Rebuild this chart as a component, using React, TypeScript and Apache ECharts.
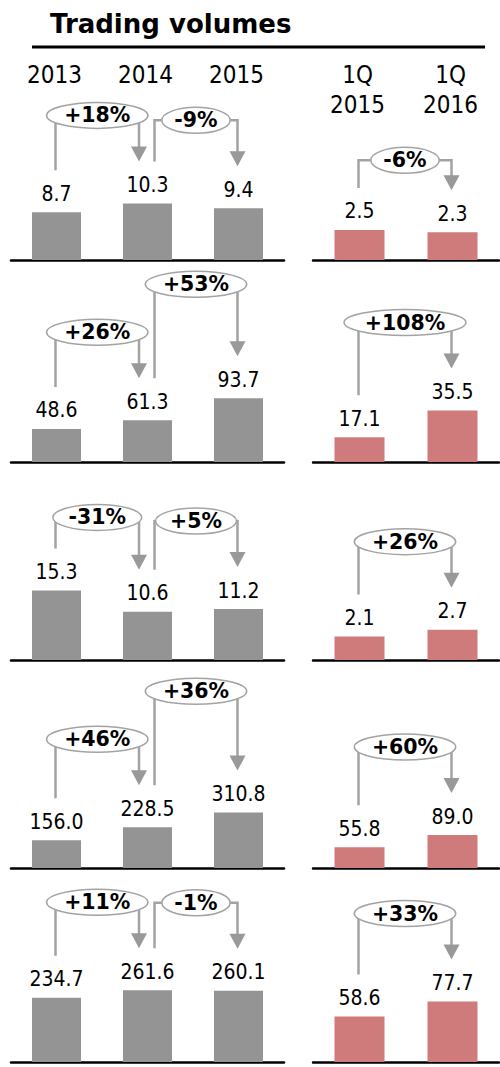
import React, { useEffect, useRef } from "react";
import * as echarts from "echarts";

// ---- data ----
const yearCategories = ["2013", "2014", "2015"];
const quarterCategories = ["1Q\n2015", "1Q\n2016"];

const yearValues = [
  [8.7, 10.3, 9.4],
  [48.6, 61.3, 93.7],
  [15.3, 10.6, 11.2],
  [156.0, 228.5, 310.8],
  [234.7, 261.6, 260.1],
];
const quarterValues = [
  [2.5, 2.3],
  [17.1, 35.5],
  [2.1, 2.7],
  [55.8, 89.0],
  [58.6, 77.7],
];
const yearChanges = [
  ["+18%", "-9%"],
  ["+26%", "+53%"],
  ["-31%", "+5%"],
  ["+46%", "+36%"],
  ["+11%", "-1%"],
];
const quarterChanges = [["-6%"], ["+108%"], ["+26%"], ["+60%"], ["+33%"]];

// axis scale per row (each row has its own scale)
const yearAxisMax = [18.2, 147, 22, 561, 365];
const quarterAxisMax = [8.3, 69, 8.9, 270, 128.5];

const TITLE = "Trading volumes";

// ---- layout / style ----
const W = 500;
const H = 1067;
const FONT = "'DejaVu Sans Condensed', 'DejaVu Sans', sans-serif";
const BOLD_FONT = "'DejaVu Sans', sans-serif";
const rowBaselines = [260, 462, 660, 868, 1062];
const GRID_H = 100;
const GRAY = "#949494";
const RED = "#cf7b7b";
const ARROW = "#a3a3a3";
// manual arrow height tweak (panel key -> px lower)
const arrowNudge: Record<string, number> = { "0-1-0": 16 };

function measure(text: string, font: string): number {
  const c = document.createElement("canvas");
  const ctx = c.getContext("2d");
  if (!ctx) return text.length * 12;
  ctx.font = font;
  return ctx.measureText(text).width;
}

export default function App() {
  const ref = useRef<HTMLDivElement>(null);

  useEffect(() => {
    document.body.style.margin = "0";
    if (!ref.current) return;
    const chart = echarts.init(ref.current, undefined, { renderer: "svg" });

    const grids: any[] = [];
    const xAxes: any[] = [];
    const yAxes: any[] = [];
    const series: any[] = [];

    rowBaselines.forEach((base, r) => {
      const panels = [
        { left: 11, width: 273, cats: yearCategories, vals: yearValues[r], max: yearAxisMax[r], color: GRAY, bw: 49 },
        { left: 313, width: 186, cats: quarterCategories, vals: quarterValues[r], max: quarterAxisMax[r], color: RED, bw: 50 },
      ];
      panels.forEach((p) => {
        const k = grids.length;
        grids.push({ left: p.left, width: p.width, top: base - GRID_H, height: GRID_H });
        xAxes.push({
          type: "category",
          gridIndex: k,
          data: p.cats,
          axisLine: { show: true, lineStyle: { color: "#000", width: 2.5 } },
          axisTick: { show: false },
          axisLabel: { show: false },
        });
        yAxes.push({
          type: "value",
          gridIndex: k,
          min: 0,
          max: p.max,
          show: false,
          splitLine: { show: false },
        });
        series.push({
          type: "bar",
          xAxisIndex: k,
          yAxisIndex: k,
          data: p.vals,
          barWidth: p.bw,
          itemStyle: { color: p.color },
          label: {
            show: true,
            position: "top",
            distance: 8,
            fontFamily: FONT,
            fontSize: 21,
            color: "#000",
            formatter: (d: any) => Number(d.value).toFixed(1),
          },
        });
      });
    });

    chart.setOption({
      animation: false,
      grid: grids,
      xAxis: xAxes,
      yAxis: yAxes,
      series,
    });

    // ---- graphics: title, headers, change arrows ----
    const g: any[] = [];
    g.push({
      type: "text",
      x: 50,
      y: 24,
      style: { text: TITLE, font: `bold 26px ${BOLD_FONT}`, fill: "#000", textAlign: "left", textVerticalAlign: "middle" },
    });
    g.push({
      type: "line",
      shape: { x1: 32, y1: 47, x2: 485, y2: 47 },
      style: { stroke: "#000", lineWidth: 3 },
    });

    const pctFont = `bold 20.5px ${BOLD_FONT}`;

    rowBaselines.forEach((_b, r) => {
      [0, 1].forEach((side) => {
        const k = r * 2 + side;
        const vals = side === 0 ? yearValues[r] : quarterValues[r];
        const cats = side === 0 ? yearCategories : quarterCategories;
        const changes = side === 0 ? yearChanges[r] : quarterChanges[r];
        const pts = vals.map((v, i) => chart.convertToPixel({ gridIndex: k }, [i, v]) as number[]);

        if (r === 0) {
          cats.forEach((c, i) => {
            g.push({
              type: "text",
              x: pts[i][0] - 2,
              y: c.includes("\n") ? 90 : 75,
              style: {
                text: c,
                font: `24px ${FONT}`,
                lineHeight: 30,
                fill: "#000",
                textAlign: "center",
                textVerticalAlign: "middle",
              },
            });
          });
        }

        const n = vals.length;
        let prev: { l: number; r: number; level: number } | null = null;
        for (let j = 0; j < n - 1; j++) {
          const x1 = pts[j][0] + (j > 0 ? 7 : -1);
          const x2 = pts[j + 1][0] + (j + 1 < n - 1 ? -8.5 : -1);
          const startY = pts[j][1] - 42;
          const tipY = pts[j + 1][1] - 42;
          const label = changes[j];
          const tw = measure(label, pctFont);
          const rx = tw * 0.72 + 3;
          const ry = 13;
          const cx = (x1 + x2) / 2;
          let level = Math.min(tipY - 46, startY - 31);
          if (prev && prev.r + 12 > cx - rx && Math.abs(prev.level - level) < 2 * ry + 6) {
            level = Math.min(level, prev.level - 48);
          }
          level += arrowNudge[`${r}-${side}-${j}`] || 0;
          prev = { l: cx - rx, r: cx + rx, level };

          g.push({
            type: "polyline",
            z: 10,
            shape: { points: [[x1, startY], [x1, level], [x2, level], [x2, tipY - 14]] },
            style: { stroke: ARROW, lineWidth: 2.5, fill: null },
          });
          g.push({
            type: "polygon",
            z: 10,
            shape: { points: [[x2 - 8, tipY - 15], [x2 + 8, tipY - 15], [x2, tipY]] },
            style: { fill: "#999", stroke: null },
          });
          g.push({
            type: "ellipse",
            z: 11,
            shape: { cx, cy: level, rx, ry },
            style: { fill: "#fff", stroke: ARROW, lineWidth: 1.5 },
          });
          g.push({
            type: "text",
            z: 12,
            x: cx,
            y: level,
            style: { text: label, font: pctFont, fill: "#000", textAlign: "center", textVerticalAlign: "middle" },
          });
        }
      });
    });

    chart.setOption({ graphic: g });

    return () => chart.dispose();
  }, []);

  return <div ref={ref} style={{ width: W, height: H }} />;
}
